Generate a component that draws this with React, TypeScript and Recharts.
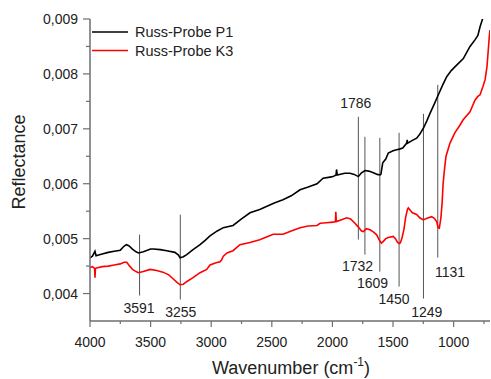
import React from "react";
import {
  LineChart,
  Line,
  XAxis,
  YAxis,
  ReferenceLine,
  ReferenceDot,
  Legend,
} from "recharts";

// Russ-Probe P1 (black)
const p1Wave = [
  4000, 3980, 3959, 3950, 3900, 3850, 3800, 3750, 3720, 3700, 3680, 3650, 3620, 3600, 3560, 3500,
  3478, 3420, 3367, 3300, 3270, 3257, 3230, 3202, 3150, 3092, 3050, 3010, 2950, 2900, 2820, 2750,
  2680, 2600, 2540, 2480, 2408, 2340, 2267, 2200, 2127, 2077, 2020, 1995, 1970, 1966, 1960, 1900,
  1855, 1820, 1786, 1760, 1731, 1700, 1662, 1630, 1607, 1600, 1585, 1560, 1539, 1500, 1470, 1448,
  1420, 1387, 1383, 1380, 1340, 1305, 1280, 1250, 1220, 1195, 1160, 1126, 1090, 1057, 1020, 975,
  920, 865, 824, 800, 782, 760, 700,
];
const p1Refl = [
  0.00465, 0.00468, 0.00477, 0.00469, 0.00472, 0.00475, 0.00477, 0.00479, 0.00486, 0.00489, 0.00487,
  0.00481, 0.00476, 0.00474, 0.00476, 0.00481, 0.00481, 0.0048, 0.00478, 0.00475, 0.0047, 0.00465,
  0.00467, 0.00471, 0.0048, 0.00489, 0.00497, 0.00505, 0.00514, 0.0052, 0.00524, 0.00536, 0.00547,
  0.00553, 0.00559, 0.00565, 0.00571, 0.00578, 0.00589, 0.00594, 0.006, 0.0061, 0.00612, 0.00613,
  0.00616, 0.00626, 0.00616, 0.00619, 0.00619, 0.00617, 0.00613, 0.0062, 0.00624, 0.00623, 0.0062,
  0.00617, 0.00616, 0.00617, 0.00638, 0.00645, 0.00656, 0.0066, 0.00662, 0.00663, 0.00665, 0.00674,
  0.0068, 0.00674, 0.00679, 0.00683, 0.0069, 0.00701, 0.00715, 0.00728, 0.00745, 0.00762, 0.0078,
  0.00795, 0.00806, 0.00816, 0.00828, 0.0085, 0.00862, 0.0087, 0.00886, 0.00901, 0.0094,
];

// Russ-Probe K3 (red)
const k3Wave = [
  4000, 3980, 3962, 3959, 3955, 3900, 3850, 3800, 3750, 3720, 3697, 3680, 3650, 3620, 3601, 3560,
  3505, 3450, 3398, 3350, 3315, 3280, 3257, 3230, 3200, 3150, 3092, 3037, 3010, 2960, 2927, 2915,
  2900, 2870, 2820, 2763, 2680, 2600, 2488, 2408, 2340, 2267, 2200, 2127, 2102, 2050, 1995, 1975,
  1972, 1968, 1930, 1882, 1850, 1814, 1786, 1760, 1745, 1720, 1690, 1660, 1635, 1610, 1596, 1580,
  1560, 1539, 1498, 1480, 1465, 1450, 1440, 1425, 1410, 1395, 1380, 1374, 1360, 1340, 1305, 1280,
  1250, 1220, 1181, 1160, 1140, 1128, 1118, 1105, 1095, 1087, 1075, 1063, 1030, 989, 947, 923, 865,
  824, 800, 782, 758, 740, 725, 712, 705, 700,
];
const k3Refl = [
  0.00447, 0.00449, 0.00446, 0.00429, 0.00446, 0.00449, 0.0045, 0.00452, 0.00454, 0.00457, 0.00457,
  0.00452, 0.00444, 0.0044, 0.00438, 0.0044, 0.00444, 0.00442, 0.00439, 0.00434, 0.00427, 0.0042,
  0.00416, 0.00417, 0.00422, 0.00429, 0.00438, 0.00444, 0.00452, 0.00456, 0.00458, 0.00461, 0.00468,
  0.00474, 0.00478, 0.00489, 0.00493, 0.00498, 0.00508, 0.00508, 0.00514, 0.0052, 0.00523, 0.00524,
  0.00528, 0.00529, 0.0053, 0.00531, 0.00549, 0.00531, 0.00534, 0.00538, 0.00536, 0.00528, 0.00521,
  0.00514, 0.00513, 0.00518, 0.00516, 0.00512, 0.00507, 0.00496, 0.00492, 0.00495, 0.005, 0.00502,
  0.00504, 0.005, 0.00494, 0.00491, 0.00492, 0.00502, 0.00517, 0.0054, 0.00554, 0.00556, 0.00552,
  0.00547, 0.00544, 0.00538, 0.00534, 0.00537, 0.0054, 0.00537, 0.00531, 0.0052, 0.00519, 0.00538,
  0.00565, 0.006, 0.00627, 0.0065, 0.00674, 0.00693, 0.00707, 0.00716, 0.00731, 0.00752, 0.00759,
  0.00762, 0.00777, 0.0079, 0.00813, 0.0085, 0.0087, 0.0088,
];

// peak markers
const peakLabels = ["1786", "1732", "1609", "1450", "1249", "1131", "3591", "3255"];
const peakWave = [1786, 1732, 1609, 1450, 1249, 1131, 3591, 3255];
const peakTop = [0.00722, 0.006855, 0.006836, 0.006927, 0.007273, 0.0078, 0.005073, 0.005436];
const peakBottom = [0.004982, 0.004709, 0.0044, 0.004127, 0.003909, 0.004655, 0.003964, 0.003891];
const labelWave = [1807, 1793, 1669, 1492, 1222, 1030, 3596, 3251];
const labelRefl = [0.007473, 0.00451, 0.0042, 0.003909, 0.003673, 0.0044, 0.003745, 0.003655];

// axes
const xTicks = [4000, 3750, 3500, 3250, 3000, 2750, 2500, 2250, 2000, 1750, 1500, 1250, 1000, 750];
const xMajor = [4000, 3500, 3000, 2500, 2000, 1500, 1000];
const yTicks = [0.004, 0.0045, 0.005, 0.0055, 0.006, 0.0065, 0.007, 0.0075, 0.008, 0.0085, 0.009];
const yMajor = [0.004, 0.005, 0.006, 0.007, 0.008, 0.009];
const yMajorLabels = ["0,004", "0,005", "0,006", "0,007", "0,008", "0,009"];

const series = [
  { name: "Russ-Probe P1", color: "#000000", wave: p1Wave, refl: p1Refl },
  { name: "Russ-Probe K3", color: "#ff0000", wave: k3Wave, refl: k3Refl },
];

const axisColor = "#6e6e6e";
const textColor = "#222";
const font = "'Liberation Sans', Arial, sans-serif";

const XTick = (props: any) => {
  const { x, y, payload } = props;
  const major = xMajor.includes(payload.value);
  return (
    <g>
      <line x1={x} x2={x} y1={y} y2={y + (major ? 6 : 3)} stroke={axisColor} strokeWidth={1.2} />
      {major && (
        <text x={x} y={y + 26} textAnchor="middle" fontSize={14} fill={textColor} fontFamily={font}>
          {payload.value}
        </text>
      )}
    </g>
  );
};

const YTick = (props: any) => {
  const { x, y, payload } = props;
  const idx = yMajor.findIndex((m) => Math.abs(m - payload.value) < 1e-7);
  return (
    <g>
      <line x1={x - (idx >= 0 ? 7 : 4)} x2={x} y1={y} y2={y} stroke={axisColor} strokeWidth={1.2} />
      {idx >= 0 && (
        <text x={x - 12} y={y + 5} textAnchor="end" fontSize={14} fill={textColor} fontFamily={font}>
          {yMajorLabels[idx]}
        </text>
      )}
    </g>
  );
};

const TopTick = (props: any) => {
  const { x, y } = props;
  return <line x1={x} x2={x} y1={y} y2={y + 2} stroke={axisColor} strokeWidth={1.2} />;
};

const renderLegend = () => (
  <svg width={200} height={40}>
    {series.map((s, i) => (
      <g key={s.name}>
        <line x1={2} x2={38} y1={10 + i * 18.5} y2={10 + i * 18.5} stroke={s.color} strokeWidth={1.3} />
        <text x={45} y={15 + i * 18.5} fontSize={14.5} fill={textColor} fontFamily={font}>
          {s.name}
        </text>
      </g>
    ))}
  </svg>
);

export default function App() {
  return (
    <div style={{ width: 491, height: 379, background: "#fff", fontFamily: font }}>
      <style>{`body{margin:0}`}</style>
      <LineChart width={491} height={379} margin={{ top: 19, right: 1, left: 0, bottom: 0 }}>
        <XAxis
          type="number"
          dataKey="w"
          domain={[700, 4000]}
          reversed
          ticks={xTicks}
          interval={0}
          tick={<XTick />}
          tickLine={false}
          tickSize={0}
          tickMargin={0}
          height={58}
          stroke={axisColor}
          strokeWidth={1.5}
          allowDataOverflow
          label={() => (
            <text x={212} y={374} fontSize={18} fill={textColor} fontFamily={font}>
              Wavenumber (cm
              <tspan fontSize={12} dy={-8}>-1</tspan>
              <tspan dy={8}>)</tspan>
            </text>
          )}
        />
        <XAxis
          xAxisId="top"
          orientation="top"
          type="number"
          dataKey="w"
          domain={[700, 4000]}
          reversed
          ticks={xTicks}
          interval={0}
          tick={<TopTick />}
          tickLine={false}
          tickSize={0}
          tickMargin={0}
          height={0}
          stroke={axisColor}
          strokeWidth={1.5}
          allowDataOverflow
        />
        <YAxis
          type="number"
          domain={[0.0035, 0.009]}
          ticks={yTicks}
          interval={0}
          tick={<YTick />}
          tickLine={false}
          tickSize={0}
          tickMargin={0}
          width={90}
          stroke={axisColor}
          strokeWidth={1.5}
          allowDataOverflow
          label={() => (
            <text
              x={25}
              y={162}
              transform="rotate(-90, 25, 162)"
              textAnchor="middle"
              fontSize={18}
              fill={textColor}
              fontFamily={font}
            >
              Reflectance
            </text>
          )}
        />
        <Legend
          layout="vertical"
          align="center"
          verticalAlign="middle"
          content={renderLegend}
          wrapperStyle={{ position: "absolute", left: 90, top: 22, width: 200, height: 40 }}
        />
        {peakWave.map((w, i) => (
          <ReferenceLine
            key={"l" + i}
            segment={[
              { x: w, y: peakTop[i] },
              { x: w, y: peakBottom[i] },
            ]}
            stroke="#555"
            strokeWidth={1}
          />
        ))}
        {series.map((s) => (
          <Line
            key={s.name}
            name={s.name}
            data={s.wave.map((w, i) => ({ w, v: s.refl[i] }))}
            dataKey="v"
            type="linear"
            stroke={s.color}
            strokeWidth={1.6}
            dot={false}
            isAnimationActive={false}
          />
        ))}
        {peakLabels.map((lab, i) => (
          <ReferenceDot
            key={"t" + i}
            x={labelWave[i]}
            y={labelRefl[i]}
            r={0}
            shape={(p: any) => (
              <text
                x={p.cx}
                y={p.cy + 5}
                textAnchor="middle"
                fontSize={14}
                fill={textColor}
                fontFamily={font}
              >
                {lab}
              </text>
            )}
          />
        ))}
      </LineChart>
    </div>
  );
}
